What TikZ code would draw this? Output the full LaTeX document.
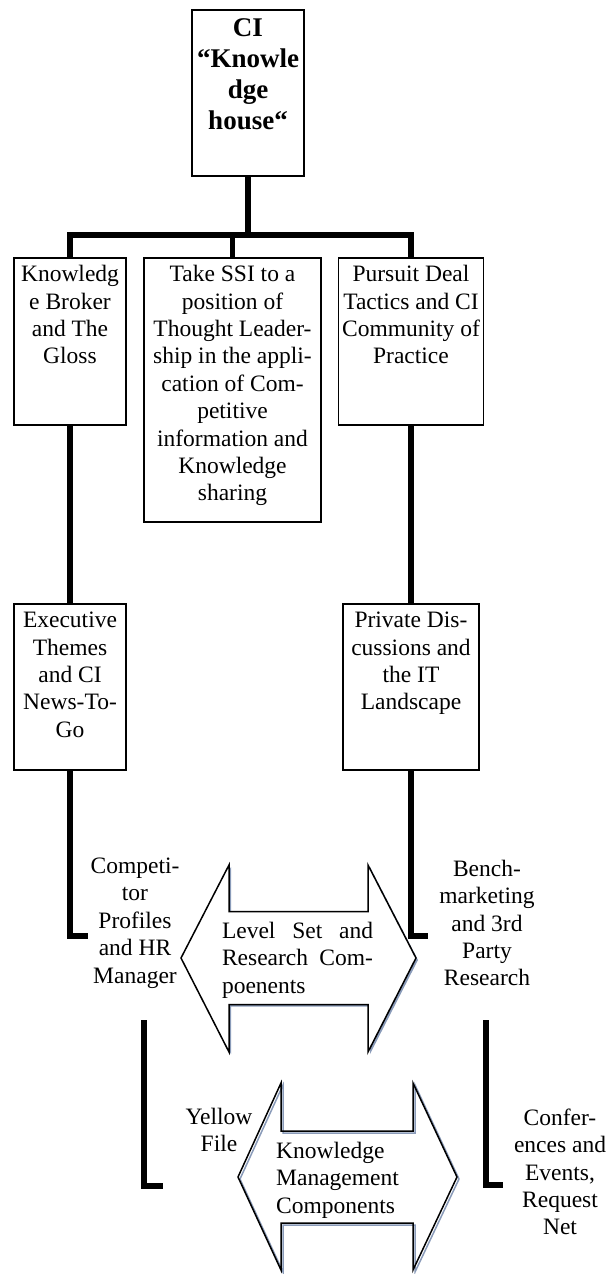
\documentclass[tikz,border=0pt]{standalone}
\usepackage{fontspec}
\setmainfont{Liberation Serif}
\definecolor{shadowblue}{RGB}{138,155,185}
\newcommand{\boxlines}[3]{\parbox[c][#1][t]{#2}{\centering\vspace*{4.5pt}\strut #3}}
\begin{document}
\begin{tikzpicture}[x=1pt, y=-1pt,
	box/.style={draw, line width=1.3pt, inner sep=0pt, font=\fontsize{23.5}{27.4}\selectfont},
	headbox/.style={box, font=\fontsize{27}{31.2}\selectfont\bfseries},
	plain/.style={align=center, inner sep=0pt, font=\fontsize{23.5}{27.4}\selectfont},
	conn/.style={line width=5.3pt, line join=miter},
	arrowline/.style={draw, line width=1.5pt, line join=miter}]
	\useasboundingbox (0,0) rectangle (615,1274);
	\node (ci) at (248,93)      [headbox] {\boxlines{166pt}{112pt}{CI\\“Knowle\\dge\\house“}};
	\node (kb) at (70,341.5)    [box] {\boxlines{167pt}{112pt}{Knowledg\\e Broker\\and The\\Gloss}};
	\node (ssi) at (232.5,390)  [box] {\boxlines{264pt}{177pt}{Take SSI to a\\position of\\Thought Leader-\\ship in the appli-\\cation of Com-\\petitive\\information and\\Knowledge\\sharing}};
	\node (pd) at (411,341.5)   [box] {\boxlines{167pt}{145pt}{Pursuit Deal\\Tactics and CI\\Community of\\Practice}};
	\node (ex) at (70,687)      [box] {\boxlines{166pt}{112pt}{Executive\\Themes\\and CI\\News-To-\\Go}};
	\node (pv) at (411,687)     [box] {\boxlines{166pt}{136pt}{Private Dis-\\cussions and\\the IT\\Landscape}};
	\coordinate (bar) at (248,235);
	\draw[conn] (ci.south) -- (bar);
	\draw[conn] (kb.north) |- (bar) -| (pd.north);
	\draw[conn] (ssi.north) -- (ssi.north |- bar);
	\draw[conn] (kb) -- (ex);
	\draw[conn] (pd) -- (pv);
	\coordinate (exfoot) at (88,936);
	\coordinate (pvfoot) at (428,936);
	\draw[conn] (ex.south) |- (exfoot);
	\draw[conn] (pv.south) |- (pvfoot);
	\coordinate (kmtopl) at (144,1020);
	\coordinate (kmfootl) at (163,1186);
	\coordinate (kmtopr) at (486,1020);
	\coordinate (kmfootr) at (503,1185);
	\draw[conn] (kmtopl) |- (kmfootl);
	\draw[conn] (kmtopr) |- (kmfootr);
	\draw[arrowline, fill=white, preaction={fill=shadowblue, transform canvas={shift={(2pt,-2pt)}}}]
		(181,958) -- (229,865) -- (229,911.5) -- (368,911.5) -- (368,865) -- (416,958)
		-- (368,1052) -- (368,1004.5) -- (229,1004.5) -- (229,1052) -- cycle;
	\draw[arrowline, preaction={draw=shadowblue, line width=1.5pt, transform canvas={shift={(2pt,-2pt)}}}]
		(238,1177) -- (281,1083) -- (281,1131) -- (413,1131) -- (413,1083) -- (457,1177)
		-- (413,1270) -- (413,1223) -- (281,1223) -- (281,1270) -- cycle;
	\node (levelset) at (297.5,960) [plain, align=justify, text width=151pt] {Level Set and\linebreak Research Com-\linebreak poenents};
	\node (kmc) at (276,1180)   [plain, anchor=west, align=left] {Knowledge\\Management\\Components};
	\node (comp) at (135,923)   [plain] {Competi-\\tor\\Profiles\\and HR\\Manager};
	\node (bench) at (487,923)  [plain] {Bench-\\marketing\\and 3rd\\Party\\Research};
	\node (yellow) at (219,1130) [plain] {Yellow\\File};
	\node (conf) at (560,1172)  [plain] {Confer-\\ences and\\Events,\\Request\\Net};
\end{tikzpicture}
\end{document}
